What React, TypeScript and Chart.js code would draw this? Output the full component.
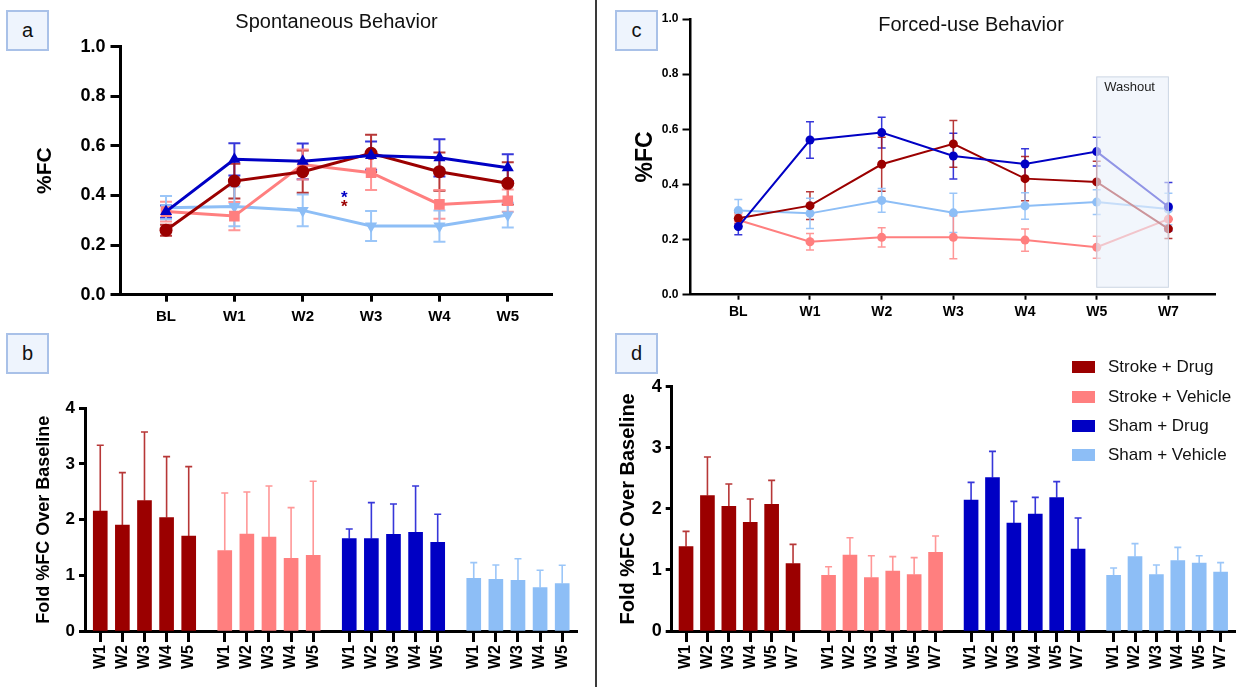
import React, { useEffect, useRef } from 'react';
import { Chart, registerables } from 'chart.js';

Chart.register(...registerables);

const FONT = '"Liberation Sans", Arial, Helvetica, sans-serif';

const GROUPS = ['Stroke + Drug', 'Stroke + Vehicle', 'Sham + Drug', 'Sham + Vehicle'];
const COLORS = ['#9B0000', '#FF7F7F', '#0000C4', '#8DBEF6'];
const ERROR_COLORS = ['rgba(170,20,20,0.85)', 'rgba(255,140,140,0.9)', 'rgba(20,20,210,0.85)', 'rgba(150,195,248,0.95)'];

// ---------- Panel a : Spontaneous Behavior (%FC, mean ± SEM) ----------
const timepointsA = ['BL', 'W1', 'W2', 'W3', 'W4', 'W5'];
const strokeDrugA = [0.26, 0.458, 0.496, 0.57, 0.496, 0.449];
const strokeDrugAErr = [0.022, 0.07, 0.085, 0.075, 0.077, 0.085];
const strokeVehicleA = [0.335, 0.317, 0.525, 0.492, 0.364, 0.379];
const strokeVehicleAErr = [0.04, 0.057, 0.06, 0.07, 0.058, 0.045];
const shamDrugA = [0.335, 0.546, 0.538, 0.561, 0.552, 0.512];
const shamDrugAErr = [0.025, 0.065, 0.072, 0.057, 0.075, 0.054];
const shamVehicleA = [0.351, 0.356, 0.34, 0.277, 0.277, 0.321];
const shamVehicleAErr = [0.047, 0.08, 0.064, 0.06, 0.063, 0.05];
const significanceA = [
  { position: 2.61, value: 0.411, group: 2 },
  { position: 2.61, value: 0.375, group: 0 },
];

// ---------- Panel b : Fold %FC over baseline (spontaneous) ----------
const weeksB = ['W1', 'W2', 'W3', 'W4', 'W5'];
const strokeDrugB = [2.156, 1.904, 2.341, 2.036, 1.707];
const strokeDrugBErr = [1.18, 0.94, 1.234, 1.096, 1.245];
const strokeVehicleB = [1.443, 1.743, 1.689, 1.305, 1.359];
const strokeVehicleBErr = [1.036, 0.754, 0.916, 0.911, 1.33];
const shamDrugB = [1.659, 1.659, 1.737, 1.772, 1.593];
const shamDrugBErr = [0.173, 0.646, 0.544, 0.833, 0.503];
const shamVehicleB = [0.946, 0.928, 0.91, 0.778, 0.85];
const shamVehicleBErr = [0.282, 0.258, 0.389, 0.312, 0.33];

// ---------- Panel c : Forced-use Behavior (%FC, mean ± SEM) ----------
const timepointsC = ['BL', 'W1', 'W2', 'W3', 'W4', 'W5', 'W7'];
const strokeDrugC = [0.277, 0.323, 0.473, 0.547, 0.421, 0.409, 0.239];
const strokeDrugCErr = [0.02, 0.05, 0.098, 0.085, 0.08, 0.075, 0.035];
const strokeVehicleC = [0.271, 0.192, 0.208, 0.208, 0.198, 0.172, 0.274];
const strokeVehicleCErr = [0.02, 0.03, 0.035, 0.078, 0.04, 0.04, 0.03];
const shamDrugC = [0.247, 0.561, 0.588, 0.503, 0.474, 0.519, 0.319];
const shamDrugCErr = [0.03, 0.066, 0.056, 0.083, 0.055, 0.052, 0.088];
const shamVehicleC = [0.305, 0.295, 0.342, 0.297, 0.322, 0.336, 0.311];
const shamVehicleCErr = [0.04, 0.055, 0.043, 0.071, 0.048, 0.045, 0.057];
const washoutC = { from: 'W5', to: 'W7', low: 0.027, high: 0.79, label: 'Washout' };

// ---------- Panel d : Fold %FC over baseline (forced-use) ----------
const weeksD = ['W1', 'W2', 'W3', 'W4', 'W5', 'W7'];
const strokeDrugD = [1.381, 2.216, 2.041, 1.779, 2.074, 1.102];
const strokeDrugDErr = [0.251, 0.633, 0.366, 0.382, 0.393, 0.317];
const strokeVehicleD = [0.911, 1.244, 0.873, 0.982, 0.922, 1.288];
const strokeVehicleDErr = [0.142, 0.284, 0.36, 0.235, 0.279, 0.267];
const shamDrugD = [2.145, 2.51, 1.768, 1.915, 2.183, 1.342];
const shamDrugDErr = [0.289, 0.431, 0.355, 0.273, 0.262, 0.508];
const shamVehicleD = [0.911, 1.217, 0.922, 1.151, 1.113, 0.966];
const shamVehicleDErr = [0.12, 0.213, 0.158, 0.219, 0.12, 0.153];

// ---------------- plugins ----------------
function drawErrorBars(chart: any, phase: string) {
  const ctx = chart.ctx;
  const yScale = chart.scales.y;
  chart.data.datasets.forEach((ds: any, di: number) => {
    const eb = ds.errorBars;
    if (!eb || eb.phase !== phase) return;
    const meta = chart.getDatasetMeta(di);
    ctx.save();
    ctx.strokeStyle = eb.color;
    ctx.lineWidth = eb.width;
    meta.data.forEach((el: any, i: number) => {
      const raw = ds.data[i];
      const v = typeof raw === 'number' ? raw : raw.y;
      const e = eb.values[i];
      const x = el.x;
      const yTop = yScale.getPixelForValue(v + e);
      const yBot = eb.upOnly ? el.y : yScale.getPixelForValue(v - e);
      const h = eb.cap / 2;
      ctx.beginPath();
      ctx.moveTo(x, yTop);
      ctx.lineTo(x, yBot);
      ctx.moveTo(x - h, yTop);
      ctx.lineTo(x + h, yTop);
      if (!eb.upOnly) {
        ctx.moveTo(x - h, yBot);
        ctx.lineTo(x + h, yBot);
      }
      ctx.stroke();
    });
    ctx.restore();
  });
}

const errorBarPlugin = {
  id: 'errorBars',
  beforeDatasetsDraw(chart: any) { drawErrorBars(chart, 'before'); },
  afterDatasetsDraw(chart: any) { drawErrorBars(chart, 'after'); },
};

const panelTitlePlugin = {
  id: 'panelTitle',
  afterDraw(chart: any, _args: any, opts: any) {
    if (!opts || !opts.text) return;
    const ctx = chart.ctx;
    ctx.save();
    ctx.fillStyle = '#111';
    ctx.font = `${opts.size}px ${FONT}`;
    ctx.textAlign = 'center';
    ctx.textBaseline = 'middle';
    ctx.fillText(opts.text, opts.x, opts.y);
    ctx.restore();
  },
};

const significancePlugin = {
  id: 'significance',
  afterDatasetsDraw(chart: any, _args: any, opts: any) {
    if (!opts || !opts.marks) return;
    const ctx = chart.ctx;
    ctx.save();
    ctx.font = `bold ${opts.size}px ${FONT}`;
    ctx.textAlign = 'center';
    ctx.textBaseline = 'alphabetic';
    opts.marks.forEach((m: any) => {
      const x = chart.scales.x.getPixelForValue(m.position);
      const y = chart.scales.y.getPixelForValue(m.value);
      ctx.fillStyle = COLORS[m.group];
      ctx.fillText('*', x, y + opts.size * 0.58);
    });
    ctx.restore();
  },
};

const washoutPlugin = {
  id: 'washout',
  afterDatasetsDraw(chart: any, _args: any, opts: any) {
    if (!opts || !opts.band) return;
    const b = opts.band;
    const xs = chart.scales.x;
    const ys = chart.scales.y;
    const left = xs.getPixelForValue(opts.labels.indexOf(b.from));
    const right = xs.getPixelForValue(opts.labels.indexOf(b.to));
    const top = ys.getPixelForValue(b.high);
    const bottom = ys.getPixelForValue(b.low);
    const ctx = chart.ctx;
    ctx.save();
    ctx.fillStyle = 'rgba(234,240,250,0.62)';
    ctx.fillRect(left, top, right - left, bottom - top);
    ctx.strokeStyle = 'rgba(200,210,225,0.9)';
    ctx.lineWidth = 1;
    ctx.strokeRect(left, top, right - left, bottom - top);
    ctx.fillStyle = '#222';
    ctx.font = `13px ${FONT}`;
    ctx.textAlign = 'center';
    ctx.textBaseline = 'middle';
    ctx.fillText(b.label, (left + right) / 2 - 3, top + 11);
    ctx.restore();
  },
};

// ---------------- axis helpers ----------------
function xAxis(o: any) {
  return {
    type: 'linear',
    min: o.min,
    max: o.max,
    offset: false,
    afterBuildTicks: (s: any) => { s.ticks = o.positions.map((v: number) => ({ value: v })); },
    afterFit: (s: any) => { s.height = o.height; },
    ticks: {
      autoSkip: false,
      minRotation: o.rotation,
      maxRotation: o.rotation,
      padding: o.pad,
      color: '#000',
      font: { family: FONT, size: o.size, weight: 'bold' },
      callback: (_v: any, i: number) => o.labels[i],
    },
    grid: { drawOnChartArea: false, drawTicks: true, tickLength: o.tl, tickWidth: o.tw, tickColor: '#000', offset: false },
    border: { display: true, color: '#000', width: o.bw },
  };
}

function yAxis(o: any) {
  return {
    type: 'linear',
    min: o.min,
    max: o.max,
    afterFit: (s: any) => { s.width = o.width; },
    ticks: {
      stepSize: o.step,
      padding: o.pad,
      color: '#000',
      font: { family: FONT, size: o.size, weight: 'bold' },
      callback: (v: any) => Number(v).toFixed(o.decimals),
    },
    grid: { drawOnChartArea: false, drawTicks: true, tickLength: o.tl, tickWidth: o.tw, tickColor: '#000' },
    border: { display: true, color: '#000', width: o.bw },
    title: {
      display: true,
      text: o.title,
      color: '#000',
      font: { family: FONT, size: o.titleSize, weight: 'bold' },
      padding: { top: o.titlePad, bottom: 0 },
    },
  };
}

const baseOptions = {
  responsive: false,
  maintainAspectRatio: false,
  animation: false,
  events: [],
};

// ---------------- chart configs ----------------
function configA(): any {
  const series = [
    { vals: shamDrugA, err: shamDrugAErr, g: 2, style: 'triangle', rot: 0, r: 7 },
    { vals: strokeDrugA, err: strokeDrugAErr, g: 0, style: 'circle', rot: 0, r: 6.5 },
    { vals: strokeVehicleA, err: strokeVehicleAErr, g: 1, style: 'rect', rot: 0, r: 7.5 },
    { vals: shamVehicleA, err: shamVehicleAErr, g: 3, style: 'triangle', rot: 180, r: 7 },
  ];
  return {
    type: 'line',
    data: {
      datasets: series.map((s) => ({
        label: GROUPS[s.g],
        data: s.vals.map((y, i) => ({ x: i, y })),
        borderColor: COLORS[s.g],
        backgroundColor: COLORS[s.g],
        borderWidth: 3,
        tension: 0,
        pointStyle: s.style,
        pointRotation: s.rot,
        pointRadius: s.r,
        pointBorderWidth: 0,
        errorBars: { values: s.err, color: ERROR_COLORS[s.g], width: 2, cap: 12, phase: 'before' },
      })),
    },
    options: {
      ...baseOptions,
      layout: { padding: { left: 0, top: 46.7, right: 43.8, bottom: 0 } },
      scales: {
        x: xAxis({ min: -0.666, max: 5.65, positions: timepointsA.map((_, i) => i), labels: timepointsA, rotation: 0, pad: 6, tl: 7, tw: 3, bw: 3, size: 15, height: 35.3 }),
        y: yAxis({ min: 0, max: 1, step: 0.2, decimals: 1, pad: 5, tl: 10, tw: 3, bw: 3, size: 18, width: 120.5, title: '%FC', titleSize: 21, titlePad: 33 }),
      },
      plugins: {
        legend: { display: false },
        tooltip: { enabled: false },
        panelTitle: { text: 'Spontaneous Behavior', x: 336.5, y: 22, size: 20 },
        significance: { marks: significanceA, size: 17 },
      },
    },
    plugins: [errorBarPlugin, significancePlugin, panelTitlePlugin],
  };
}

function configC(): any {
  const series = [
    { vals: shamDrugC, err: shamDrugCErr, g: 2 },
    { vals: strokeDrugC, err: strokeDrugCErr, g: 0 },
    { vals: shamVehicleC, err: shamVehicleCErr, g: 3 },
    { vals: strokeVehicleC, err: strokeVehicleCErr, g: 1 },
  ];
  return {
    type: 'line',
    data: {
      datasets: series.map((s) => ({
        label: GROUPS[s.g],
        data: s.vals.map((y, i) => ({ x: i, y })),
        borderColor: COLORS[s.g],
        backgroundColor: COLORS[s.g],
        borderWidth: 2,
        tension: 0,
        pointStyle: 'circle',
        pointRadius: 4.5,
        pointBorderWidth: 0,
        errorBars: { values: s.err, color: ERROR_COLORS[s.g], width: 1.5, cap: 8, phase: 'before' },
      })),
    },
    options: {
      ...baseOptions,
      layout: { padding: { left: 0, top: 19, right: 28, bottom: 0 } },
      scales: {
        x: xAxis({ min: -0.667, max: 6.65, positions: timepointsC.map((_, i) => i), labels: timepointsC, rotation: 0, pad: 4, tl: 5, tw: 2, bw: 2.5, size: 14, height: 35.3 }),
        y: yAxis({ min: 0, max: 1, step: 0.2, decimals: 1, pad: 4, tl: 8, tw: 2, bw: 2.5, size: 12, width: 92.5, title: '%FC', titleSize: 23, titlePad: 34 }),
      },
      plugins: {
        legend: { display: false },
        tooltip: { enabled: false },
        panelTitle: { text: 'Forced-use Behavior', x: 373, y: 25, size: 20 },
        washout: { band: washoutC, labels: timepointsC },
      },
    },
    plugins: [errorBarPlugin, washoutPlugin, panelTitlePlugin],
  };
}

function barConfig(o: any): any {
  const n = o.weeks.length;
  const pos = (g: number, i: number) => g * (n + o.gap) + i;
  const positions: number[] = [];
  const labels: string[] = [];
  o.groups.forEach((_: any, g: number) => o.weeks.forEach((w: string, i: number) => { positions.push(pos(g, i)); labels.push(w); }));
  return {
    type: 'bar',
    data: {
      datasets: o.groups.map((s: any, g: number) => ({
        label: GROUPS[g],
        data: s.vals.map((y: number, i: number) => ({ x: pos(g, i), y })),
        backgroundColor: COLORS[g],
        borderWidth: 0,
        barThickness: 14,
        grouped: false,
        errorBars: { values: s.err, color: ERROR_COLORS[g], width: 1.6, cap: 7, upOnly: true, phase: 'after' },
      })),
    },
    options: {
      ...baseOptions,
      layout: { padding: o.padding },
      scales: {
        x: xAxis({ min: o.xmin, max: o.xmax, positions, labels, rotation: 90, pad: 3, tl: 11, tw: 3, bw: 3, size: 16, height: 56 }),
        y: yAxis({ min: 0, max: 4, step: 1, decimals: 0, pad: 4, tl: 6, tw: 3, bw: 3, size: o.ySize, width: o.yWidth, title: 'Fold %FC Over Baseline', titleSize: o.titleSize, titlePad: o.titlePad }),
      },
      plugins: { legend: { display: false }, tooltip: { enabled: false } },
    },
    plugins: [errorBarPlugin],
  };
}

function configB(): any {
  return barConfig({
    weeks: weeksB,
    gap: 0.63,
    groups: [
      { vals: strokeDrugB, err: strokeDrugBErr },
      { vals: strokeVehicleB, err: strokeVehicleBErr },
      { vals: shamDrugB, err: shamDrugBErr },
      { vals: shamVehicleB, err: shamVehicleBErr },
    ],
    xmin: -0.69, xmax: 21.6,
    padding: { left: 0, top: 78.3, right: 18.1, bottom: 0 },
    yWidth: 85, ySize: 17, titleSize: 18, titlePad: 33.2,
  });
}

function configD(): any {
  return barConfig({
    weeks: weeksD,
    gap: 0.66,
    groups: [
      { vals: strokeDrugD, err: strokeDrugDErr },
      { vals: strokeVehicleD, err: strokeVehicleDErr },
      { vals: shamDrugD, err: shamDrugDErr },
      { vals: shamVehicleD, err: shamVehicleDErr },
    ],
    xmin: -0.67, xmax: 25.67,
    padding: { left: 0, top: 56.7, right: 7.5, bottom: 0 },
    yWidth: 73.7, ySize: 18, titleSize: 20, titlePad: 18.7,
  });
}

function ChartCanvas({ make, left, top, width, height }: any) {
  const ref = useRef<HTMLCanvasElement | null>(null);
  useEffect(() => {
    if (!ref.current) return;
    const chart = new Chart(ref.current, make());
    return () => chart.destroy();
  }, []);
  return <canvas ref={ref} width={width} height={height} style={{ position: 'absolute', left, top, width, height }} />;
}

function PanelLabel({ text, left, top }: any) {
  return (
    <div style={{
      position: 'absolute', left, top, width: 39, height: 37,
      background: '#EEF4FD', border: '2px solid #A9C1E8',
      display: 'flex', alignItems: 'center', justifyContent: 'center',
      fontFamily: FONT, fontSize: 20, color: '#111',
    }}>{text}</div>
  );
}

export default function App() {
  const legendRows = [367, 397, 426, 455];
  return (
    <div style={{ position: 'absolute', left: 0, top: 0, width: 1243, height: 687, background: '#fff', overflow: 'hidden' }}>
      <ChartCanvas make={configA} left={0} top={0} width={596} height={330} />
      <ChartCanvas make={configB} left={0} top={330} width={596} height={357} />
      <ChartCanvas make={configC} left={598} top={0} width={645} height={330} />
      <ChartCanvas make={configD} left={598} top={330} width={645} height={357} />
      <div style={{ position: 'absolute', left: 595, top: 0, width: 2, height: 687, background: '#3a3a3a' }} />
      <PanelLabel text="a" left={6} top={10} />
      <PanelLabel text="b" left={6} top={333} />
      <PanelLabel text="c" left={615} top={10} />
      <PanelLabel text="d" left={615} top={333} />
      {GROUPS.map((g, i) => (
        <React.Fragment key={g}>
          <div style={{ position: 'absolute', left: 1072, top: legendRows[i] - 6, width: 23, height: 12, background: COLORS[i] }} />
          <div style={{ position: 'absolute', left: 1108, top: legendRows[i] - 10, height: 20, lineHeight: '20px', fontFamily: FONT, fontSize: 17, color: '#111', whiteSpace: 'nowrap' }}>{g}</div>
        </React.Fragment>
      ))}
    </div>
  );
}
